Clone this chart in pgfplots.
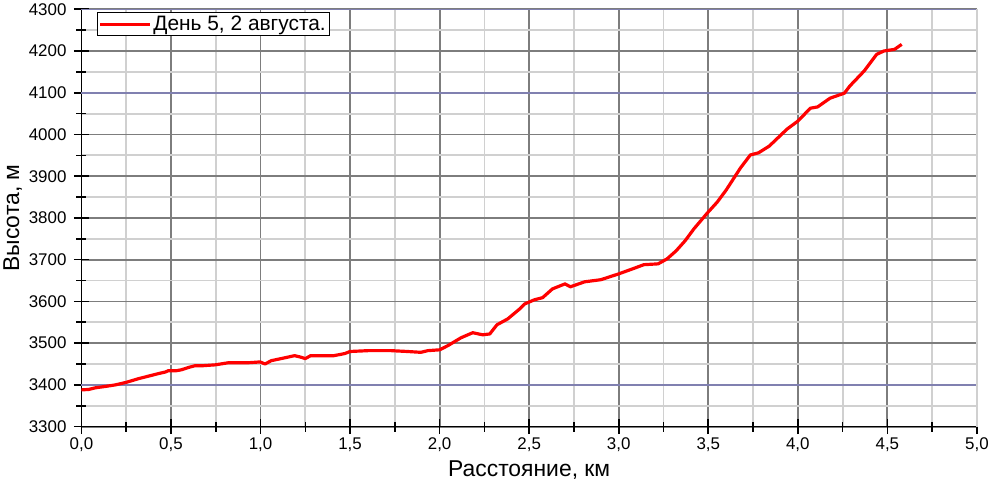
\documentclass[border=0pt]{standalone}
\usepackage{fontspec}
\setmainfont{Liberation Sans}
\usepackage{pgfplots}
\pgfplotsset{compat=1.18}
\definecolor{majgrid}{RGB}{125,125,125}
\definecolor{mingrid}{RGB}{208,208,208}
\definecolor{bluegrid}{RGB}{128,128,176}
\begin{document}
\begin{tikzpicture}
\begin{axis}[
  scale only axis,
  width=897bp, height=418bp,
  xmin=0, xmax=5, ymin=3300, ymax=4300,
  axis x line=bottom, axis y line=left,
  axis line style={-, black, line width=1.6pt},
  xtick={0,0.5,...,5}, minor x tick num=1,
  ytick={3300,3400,...,4300}, minor y tick num=1,
  tick align=center,
  major tick length=15bp, minor tick length=10bp,
  every tick/.style={black, line width=1.6pt},
  grid=both,
  major grid style={majgrid, line width=1.8pt},
  minor grid style={mingrid, line width=1.8pt},
  /pgf/number format/assume math mode=true,
  ticklabel style={font=\fontsize{17}{20}\selectfont},
  xticklabel style={/pgf/number format/.cd, fixed, fixed zerofill, precision=1, use comma},
  yticklabel style={xshift=-4bp, /pgf/number format/.cd, 1000 sep={}},
  xlabel={Расстояние, км},
  ylabel={Высота, м},
  label style={font=\fontsize{23}{26}\selectfont},
  xlabel style={yshift=-2bp},
  legend style={at={(axis cs:0.085,4293)}, anchor=north west, draw=black, line width=0.6pt, fill=white,
    font=\fontsize{21}{23}\selectfont, inner xsep=2bp, inner ysep=1.5bp, row sep=0bp},
  legend cell align=left,
  legend image code/.code={\draw[#1, line width=3pt] (0cm,0cm) -- (1.75cm,0cm);},
  clip=false,
]
\addplot[bluegrid, line width=1.6pt, forget plot] coordinates {(0,3400) (5,3400)};
\addplot[bluegrid, line width=1.6pt, forget plot] coordinates {(0,4100) (5,4100)};
\addplot[bluegrid, line width=1.4pt, forget plot] coordinates {(0,4300) (5,4300)};
\addplot[mingrid, line width=1.8pt, forget plot] coordinates {(5,3300) (5,4300)};
\addplot[red, line width=3.2pt, line join=round] coordinates {
(0.000,3388) (0.040,3389) (0.078,3393) (0.130,3396) (0.190,3400) (0.250,3406) (0.320,3415) (0.430,3427) (0.470,3431) (0.485,3434)
(0.530,3434) (0.557,3436) (0.600,3442) (0.635,3446) (0.680,3446) (0.747,3448) (0.820,3453) (0.930,3453)
(0.998,3455) (1.025,3450) (1.060,3458) (1.137,3465) (1.190,3470) (1.220,3467) (1.250,3463)
(1.280,3470) (1.410,3470) (1.470,3475) (1.500,3480) (1.600,3482) (1.730,3482) (1.820,3480)
(1.895,3478) (1.934,3482) (2.000,3484) (2.046,3494) (2.120,3513) (2.185,3525)
(2.240,3520) (2.280,3522) (2.320,3544) (2.380,3558) (2.447,3582) (2.475,3594)
(2.530,3604) (2.575,3609) (2.630,3630) (2.700,3642) (2.730,3635) (2.810,3647)
(2.900,3652) (3.000,3666) (3.090,3680) (3.140,3688) (3.220,3690) (3.270,3702)
(3.320,3721) (3.370,3745) (3.420,3774) (3.495,3812) (3.550,3838) (3.600,3867)
(3.680,3920) (3.735,3951) (3.780,3956) (3.840,3972) (3.940,4013) (4.000,4032)
(4.070,4063) (4.110,4066) (4.180,4087) (4.260,4099) (4.290,4116) (4.370,4152)
(4.440,4192) (4.480,4200) (4.540,4204) (4.580,4216)
};
\addlegendentry{День 5, 2 августа.}
\end{axis}
\end{tikzpicture}
\end{document}
